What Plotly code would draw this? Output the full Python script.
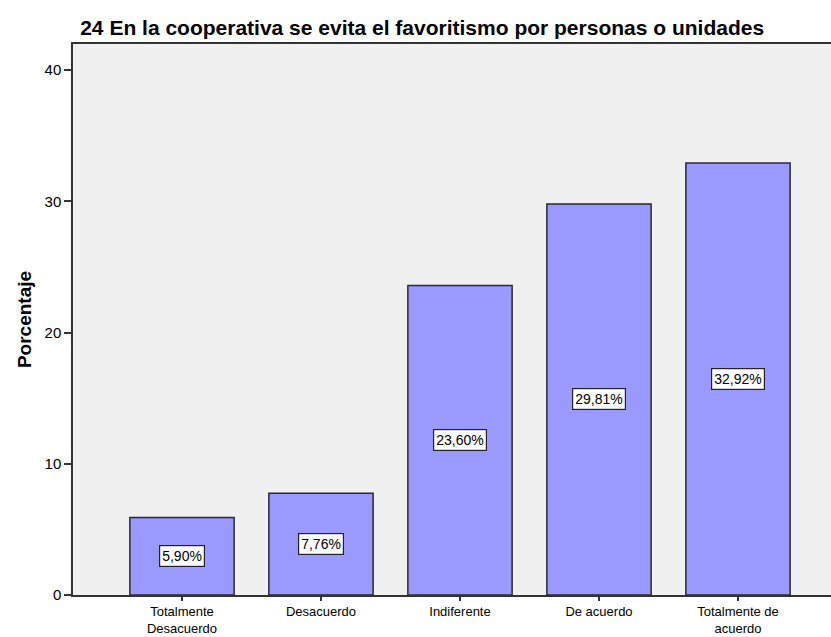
import plotly.graph_objects as go

# Response categories and their share of answers (%)
categories = ["Totalmente<br>Desacuerdo", "Desacuerdo", "Indiferente", "De acuerdo", "Totalmente de<br>acuerdo"]
percentages = [5.90, 7.76, 23.60, 29.81, 32.92]
y_ticks = [0, 10, 20, 30, 40]

title_text = "24 En la cooperativa se evita el favoritismo por personas o unidades"
font_family = "Liberation Sans, Arial, sans-serif"

fig = go.Figure()
fig.add_trace(go.Bar(
    x=list(range(len(categories))),
    y=percentages,
    width=0.75,
    marker=dict(color="#9999FF", line=dict(color="#2a2a2a", width=1.5)),
    hoverinfo="skip",
))

# Value labels in boxed text at each bar's mid-height
for i, v in enumerate(percentages):
    fig.add_annotation(
        x=i, y=v / 2, xref="x", yref="y",
        text=f"{v:.2f}%".replace(".", ","),
        showarrow=False,
        font=dict(family=font_family, size=14, color="black"),
        bgcolor="white", bordercolor="#222", borderwidth=1.2, borderpad=2,
    )

fig.update_layout(
    width=831, height=637,
    margin=dict(l=73, r=0, t=44, b=42),
    paper_bgcolor="white",
    plot_bgcolor="#F0F0F0",
    showlegend=False,
    font=dict(family=font_family, size=13, color="black"),
    title=dict(
        text=f"<b>{title_text}</b>",
        x=0.508, xanchor="center", y=0.957, yanchor="middle",
        font=dict(family=font_family, size=21, color="black"),
    ),
    bargap=0.25,
)

fig.update_xaxes(
    range=[-0.784, 4.669],
    tickmode="array",
    tickvals=list(range(len(categories))),
    ticktext=categories,
    ticks="outside", ticklen=4, tickwidth=2, tickcolor="#333",
    showline=True, linecolor="#333", linewidth=1.5, mirror=True,
    showgrid=False, zeroline=False, automargin=False,
    tickfont=dict(size=13),
)
fig.update_yaxes(
    range=[0, 42],
    tickmode="array",
    tickvals=y_ticks,
    ticks="outside", ticklen=7, tickwidth=2, tickcolor="#333",
    showline=True, linecolor="#333", linewidth=1.5,
    showgrid=False, zeroline=False, automargin=False,
    tickfont=dict(size=15),
    title=dict(text="<b>Porcentaje</b>", font=dict(size=19), standoff=8),
)

fig.write_html("out.html")
